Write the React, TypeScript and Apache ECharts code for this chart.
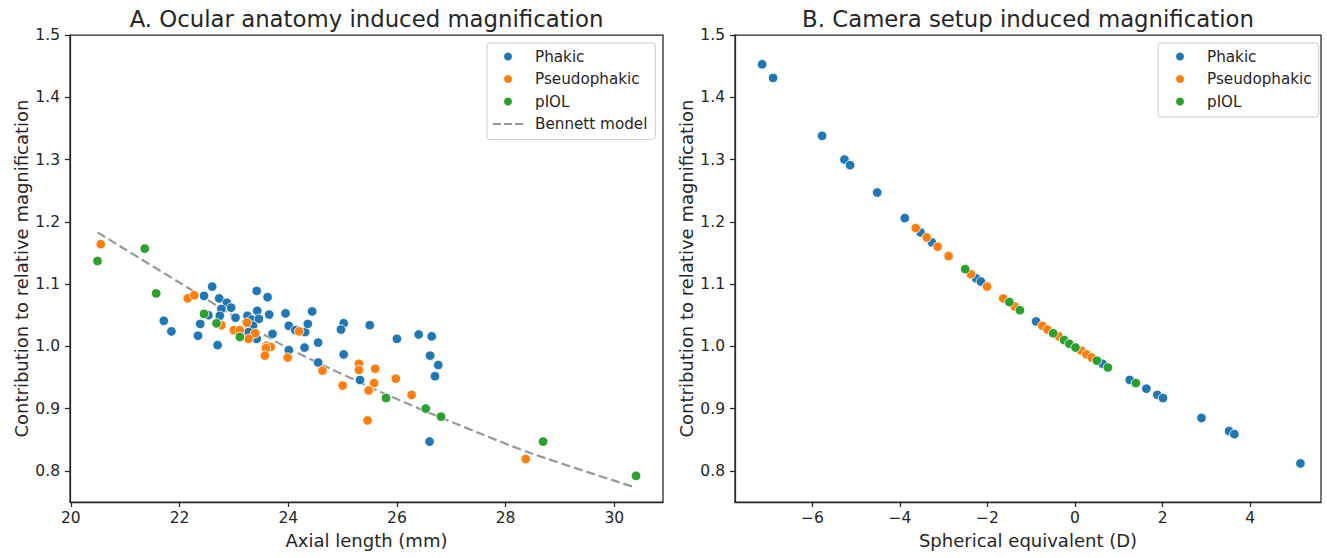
import React, { useEffect, useRef } from 'react';
import * as echarts from 'echarts';

const FONT = 'DejaVu Sans';
const INK = '#262626';
const BLUE = '#1f77b4';
const ORANGE = '#ff7f0e';
const GREEN = '#2ca02c';
const LINE_GRAY = '#999999';

// Panel A: axial length (mm) vs contribution to relative magnification
const phakicA: number[][] = [
  [21.71, 1.041], [21.85, 1.024], [22.45, 1.081], [22.6, 1.096], [22.73, 1.077], [22.87, 1.07],
  [22.95, 1.062], [22.77, 1.06], [22.74, 1.049], [22.53, 1.05], [22.38, 1.036], [22.34, 1.017],
  [22.7, 1.002], [23.03, 1.046], [23.25, 1.049], [23.33, 1.043], [23.42, 1.089], [23.43, 1.057],
  [23.46, 1.044], [23.35, 1.033], [23.27, 1.023], [23.42, 1.012], [23.62, 1.079], [23.65, 1.051],
  [23.71, 1.02], [23.95, 1.053], [24.01, 1.033], [24.13, 1.026], [24.31, 1.023], [24.36, 1.036],
  [24.44, 1.056], [24.01, 0.994], [24.3, 0.998], [24.55, 1.006], [24.55, 0.974], [25.02, 1.037],
  [24.97, 1.027], [25.02, 0.987], [25.32, 0.946], [25.5, 1.034], [26.0, 1.012], [26.4, 1.019],
  [26.64, 1.016], [26.61, 0.985], [26.76, 0.97], [26.7, 0.952], [26.6, 0.847],
];
const pseudoA: number[][] = [
  [20.55, 1.164], [22.15, 1.077], [22.27, 1.082], [22.77, 1.034], [23.0, 1.026], [23.11, 1.026],
  [23.24, 1.038], [23.39, 1.021], [23.27, 1.012], [23.6, 1.001], [23.68, 0.999], [23.59, 0.997],
  [23.57, 0.985], [24.2, 1.024], [23.99, 0.982], [24.63, 0.961], [25.0, 0.937], [25.3, 0.972],
  [25.3, 0.962], [25.6, 0.964], [25.58, 0.941], [25.48, 0.929], [25.98, 0.948], [26.27, 0.922],
  [25.46, 0.881], [28.37, 0.819],
];
const piolA: number[][] = [
  [20.49, 1.137], [21.36, 1.157], [21.57, 1.085], [22.45, 1.052], [22.68, 1.037], [23.11, 1.015],
  [25.8, 0.917], [26.53, 0.9], [26.81, 0.887], [28.69, 0.847], [30.4, 0.792],
];
const bennett: number[][] = [
  [20.49, 1.183], [22.25, 1.089], [23.85, 1.004], [25.32, 0.942], [26.06, 0.913],
  [27.53, 0.86], [28.51, 0.827], [30.4, 0.773],
];

// Panel B: spherical equivalent (D) vs contribution to relative magnification
const phakicB: number[][] = [
  [-7.15, 1.453], [-6.9, 1.431], [-5.78, 1.338], [-5.27, 1.3], [-5.14, 1.291], [-4.52, 1.247],
  [-3.89, 1.206], [-3.53, 1.183], [-3.27, 1.167], [-2.26, 1.109], [-2.15, 1.104], [-0.89, 1.04],
  [0.63, 0.972], [1.25, 0.946], [1.63, 0.932], [1.88, 0.922], [2.01, 0.917], [2.89, 0.885],
  [3.52, 0.864], [3.64, 0.859], [5.15, 0.812],
];
const pseudoB: number[][] = [
  [-3.64, 1.19], [-3.39, 1.175], [-3.14, 1.16], [-2.89, 1.145], [-2.38, 1.116], [-2.01, 1.096],
  [-1.64, 1.077], [-1.38, 1.064], [-0.75, 1.033], [-0.63, 1.027], [-0.37, 1.016], [0.14, 0.993],
  [0.26, 0.987], [0.38, 0.982],
];
const piolB: number[][] = [
  [-2.51, 1.124], [-1.5, 1.071], [-1.26, 1.058], [-0.5, 1.021], [-0.25, 1.01], [-0.13, 1.004],
  [0.01, 0.998], [0.5, 0.977], [0.75, 0.966], [1.39, 0.941],
];

const yTicks = [0.8, 0.9, 1.0, 1.1, 1.2, 1.3, 1.4, 1.5];
const xTicksA = [20, 22, 24, 26, 28, 30];
const xTicksB = [-6, -4, -2, 0, 2, 4];

const titleA = 'A. Ocular anatomy induced magnification';
const titleB = 'B. Camera setup induced magnification';
const xNameA = 'Axial length (mm)';
const xNameB = 'Spherical equivalent (D)';
const yName = 'Contribution to relative magnification';

const lbl = { fontFamily: FONT, fontSize: 15.5, color: INK };
const axisLineStyle = { color: INK, width: 1.25 };
const DASH_ICON = 'path://M0 0h8v2.2H0zM11 0h8v2.2h-8zM22 0h8v2.2h-8z';

function xAxis(gi: number, min: number, max: number, ticks: number[], name: string) {
  return {
    type: 'value', gridIndex: gi, min, max, name, nameLocation: 'middle', nameGap: 29,
    nameTextStyle: { fontFamily: FONT, fontSize: 18, color: INK },
    axisLine: { show: true, onZero: false, lineStyle: axisLineStyle },
    axisTick: { show: true, inside: false, length: 5, customValues: ticks, lineStyle: axisLineStyle },
    axisLabel: {
      ...lbl, margin: 8, customValues: ticks,
      formatter: (v: number) => (v < 0 ? '\u2212' + Math.abs(v) : String(v)),
    },
    splitLine: { show: false },
  };
}
function yAxis(gi: number) {
  return {
    type: 'value', gridIndex: gi, min: 0.75, max: 1.5, name: yName, nameLocation: 'middle', nameGap: 40,
    nameTextStyle: { fontFamily: FONT, fontSize: 18, color: INK },
    axisLine: { show: true, onZero: false, lineStyle: axisLineStyle },
    axisTick: { show: true, inside: false, length: 5, customValues: yTicks, lineStyle: axisLineStyle },
    axisLabel: { ...lbl, margin: 10, customValues: yTicks, formatter: (v: number) => v.toFixed(1) },
    splitLine: { show: false },
  };
}
function scatter(name: string, data: number[][], color: string, gi: number) {
  return {
    type: 'scatter', name, data, xAxisIndex: gi, yAxisIndex: gi, symbol: 'circle', symbolSize: 9.5,
    itemStyle: { color, borderColor: '#ffffff', borderWidth: 0.8, opacity: 1 },
    emphasis: { disabled: true },
  };
}
function legend(left: number, names: string[], padding: number[]) {
  return {
    orient: 'vertical', left, top: 43, padding,
    backgroundColor: '#ffffff', borderColor: '#cccccc', borderWidth: 1, borderRadius: 3,
    itemWidth: 30, itemHeight: 10, itemGap: 5.5,
    textStyle: { fontFamily: FONT, fontSize: 15.2, color: INK, lineHeight: 17, padding: [0, 0, 0, 7] },
    data: names.map((n) =>
      n === 'Bennett model'
        ? { name: n, icon: DASH_ICON, itemStyle: { color: LINE_GRAY, borderWidth: 0 } }
        : { name: n, icon: 'circle' }),
    selectedMode: false,
  };
}

const option: any = {
  animation: false,
  backgroundColor: '#ffffff',
  textStyle: { fontFamily: FONT },
  grid: [
    { left: 70, top: 35, width: 593, height: 467, show: true, borderColor: INK, borderWidth: 1.25, backgroundColor: 'transparent' },
    { left: 735, top: 35, width: 586, height: 467, show: true, borderColor: INK, borderWidth: 1.25, backgroundColor: 'transparent' },
  ],
  xAxis: [xAxis(0, 19.984, 30.896, xTicksA, xNameA), xAxis(1, -7.77, 5.62, xTicksB, xNameB)],
  yAxis: [yAxis(0), yAxis(1)],
  legend: [
    legend(487, ['Phakic', 'Pseudophakic', 'pIOL', 'Bennett model'], [5, 8, 7, 6]),
    legend(1158, ['Phakic', 'Pseudophakic', 'pIOL'], [5, 7, 7, 16]),
  ],
  graphic: [
    { type: 'text', x: 366.5, y: 19, style: { text: titleA, fontFamily: FONT, fontSize: 22.8, fill: INK, textAlign: 'center', textVerticalAlign: 'middle' } },
    { type: 'text', x: 1028, y: 19, style: { text: titleB, fontFamily: FONT, fontSize: 22.8, fill: INK, textAlign: 'center', textVerticalAlign: 'middle' } },
  ],
  series: [
    {
      type: 'line', name: 'Bennett model', data: bennett, xAxisIndex: 0, yAxisIndex: 0, smooth: 0.3,
      symbol: 'none', showSymbol: false, z: 1,
      lineStyle: { color: LINE_GRAY, width: 2.2, type: [9, 4] },
      itemStyle: { color: LINE_GRAY },
      emphasis: { disabled: true },
    },
    scatter('Phakic', phakicA, BLUE, 0),
    scatter('Pseudophakic', pseudoA, ORANGE, 0),
    scatter('pIOL', piolA, GREEN, 0),
    scatter('Phakic', phakicB, BLUE, 1),
    scatter('Pseudophakic', pseudoB, ORANGE, 1),
    scatter('pIOL', piolB, GREEN, 1),
  ],
};

export default function App() {
  const ref = useRef<HTMLDivElement>(null);
  useEffect(() => {
    const chart = echarts.init(ref.current!, null, { renderer: 'svg' });
    chart.setOption(option);
    return () => chart.dispose();
  }, []);
  return <div ref={ref} style={{ position: 'fixed', left: 0, top: 0, width: 1327, height: 558 }} />;
}
